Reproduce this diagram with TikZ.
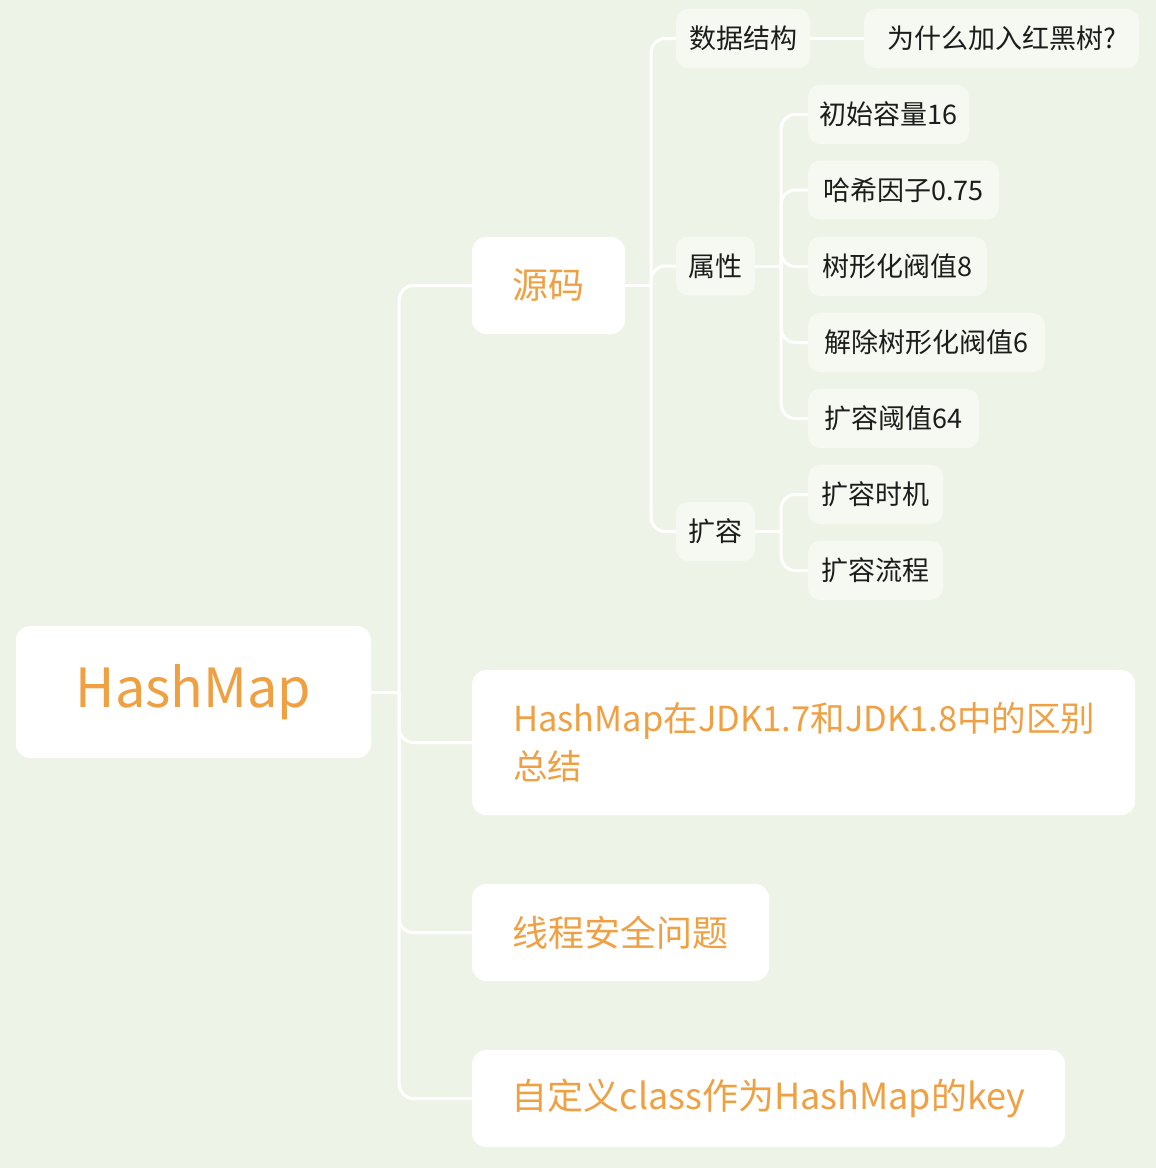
\documentclass[tikz,border=0pt]{standalone}
\usepackage{fontspec}
\setmainfont{Noto Sans CJK SC}
\usepackage{tikz}

\definecolor{bgcol}{HTML}{EEF3E7}
\definecolor{boxcol}{HTML}{F6F9F1}
\definecolor{orangetxt}{HTML}{EFA042}
\definecolor{darktxt}{HTML}{1C1C1C}

\begin{document}
\begin{tikzpicture}[x=1pt,y=-1pt,
    link/.style={draw=white,line width=3pt,rounded corners=14pt},
    topbox/.style={fill=white,rounded corners=14pt,text=orangetxt,inner sep=0pt,minimum height=97,font=\fontsize{36}{48}\selectfont},
    subbox/.style={fill=boxcol,rounded corners=12pt,text=darktxt,inner sep=0pt,minimum height=59,font=\fontsize{27}{32}\selectfont}]
    \fill[bgcol] (0,0) rectangle (1156,1168);
    \useasboundingbox (0,0) rectangle (1156,1168);
    % root and first level
    \node[topbox,minimum width=355,minimum height=132,font=\fontsize{54}{60}\selectfont] (hm) at (193.5,692) {HashMap};
    \node[topbox,minimum width=153] (src) at (548.5,285.5) {源码};
    \node[topbox,anchor=west,text width=581,inner xsep=41pt,minimum height=145,align=left,font=\fontsize{34.5}{48}\selectfont] (jdk) at (472,742.5) {HashMap在JDK1.7和JDK1.8中的区别\\总结};
    \node[topbox,minimum width=297] (safe) at (620.5,932.5) {线程安全问题};
    \node[topbox,minimum width=593] (key) at (768.5,1098.5) {自定义class作为HashMap的key};
    % second level
    \node[subbox,minimum width=134] (ds) at (743,38.5) {数据结构};
    \node[subbox,minimum width=79] (attr) at (715.5,266) {属性};
    \node[subbox,minimum width=79] (grow) at (715.5,531.5) {扩容};
    % third level
    \node[subbox,minimum width=275] (rb) at (1001.5,38.5) {为什么加入红黑树?};
    \node[subbox,minimum width=161] (cap) at (888.5,114.5) {初始容量16};
    \node[subbox,minimum width=191] (lf) at (903.5,190) {哈希因子0.75};
    \node[subbox,minimum width=179] (tf) at (897.5,266.5) {树形化阀值8};
    \node[subbox,minimum width=237] (ut) at (926.5,342.5) {解除树形化阀值6};
    \node[subbox,minimum width=171] (rt) at (893.5,418.5) {扩容阈值64};
    \node[subbox,minimum width=135] (when) at (875.5,494.5) {扩容时机};
    \node[subbox,minimum width=135] (flow) at (875.5,570.5) {扩容流程};
    % connectors
    \coordinate (j1) at ([xshift=28pt]hm.east);
    \coordinate (j2) at ([xshift=26pt]src.east);
    \coordinate (j3) at ([xshift=26pt]attr.east);
    \coordinate (j4) at ([xshift=26pt]grow.east);
    \draw[link] (hm.east) -- (j1);
    \foreach \c in {src,jdk,safe,key} \draw[link] (j1) |- (\c.west);
    \draw[link] (src.east) -- (j2);
    \foreach \c in {ds,attr,grow} \draw[link] (j2) |- (\c.west);
    \draw[link] (attr.east) -- (j3);
    \foreach \c in {cap,lf,tf,ut,rt} \draw[link] (j3) |- (\c.west);
    \draw[link] (grow.east) -- (j4);
    \foreach \c in {when,flow} \draw[link] (j4) |- (\c.west);
    \draw[link] (ds.east) -- (rb.west);
\end{tikzpicture}
\end{document}
